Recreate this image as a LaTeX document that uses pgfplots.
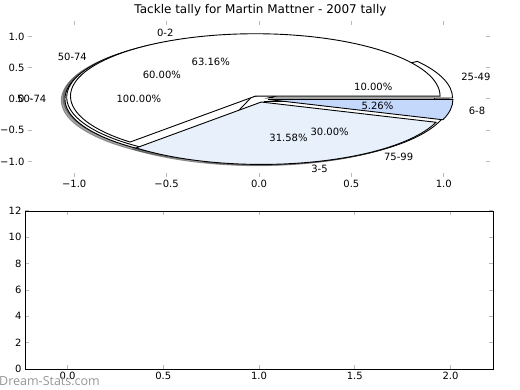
\documentclass[border=0pt]{standalone}
\usepackage{pgfplots}
\pgfplotsset{compat=1.18}
\usepackage{fontspec}
\setmainfont{DejaVu Sans}
\newfontfamily\wmfont{Open Sans}
\definecolor{lightblue}{RGB}{232,240,252}
\definecolor{midblue}{RGB}{196,216,252}
\definecolor{tickgray}{RGB}{185,185,185}
\definecolor{wmgray}{RGB}{150,150,150}

% pie data (values as shares)
% pie 1: 0-2: 12, 3-5: 6, 6-8: 1  (of 19)
\pgfmathsetmacro{\Aa}{0}
\pgfmathsetmacro{\Ab}{360/19*12}
\pgfmathsetmacro{\Ac}{360/19*(12+6)}
\pgfmathsetmacro{\Ad}{360}
% pie 2: 25-49: 10, 50-74: 60, 75-99: 30 (percent)
\pgfmathsetmacro{\Ba}{0}
\pgfmathsetmacro{\Bb}{3.6*10}
\pgfmathsetmacro{\Bc}{3.6*(10+60)}
\pgfmathsetmacro{\Bd}{360}

\newcommand\xr{184.8pt}
\newcommand\yr{62.4pt}
% #1 start, #2 end, #3 explode, #4 dx, #5 dy
\newcommand\pieWedge[5]{(axis cs:{#4+#3*cos((#1+#2)/2)},{#5+#3*sin((#1+#2)/2)}) -- ++(axis direction cs:{cos(#1)},{sin(#1)}) arc[start angle=#1,end angle=#2,x radius=\xr,y radius=\yr] -- cycle}

\tikzset{
  shad/.style={fill=black!70,draw=black!70,opacity=0.5,line width=0.9pt},
  wedg/.style={draw=black,line width=0.9pt},
}
\pgfplotsset{/pgf/number format/assume math mode=true}

\begin{document}
\begin{tikzpicture}[font=\fontsize{10}{12}\selectfont]
\useasboundingbox (0,0) rectangle (520pt,-390pt);
\node[font=\fontsize{12}{14}\selectfont] at (260.5pt,-10pt) {Tackle tally for Martin Mattner - 2007 tally};

\begin{axis}[
  at={(28pt,-21pt)}, anchor=north west, scale only axis,
  width=462pt, height=156pt,
  xmin=-1.25, xmax=1.25, ymin=-1.25, ymax=1.25,
  axis line style={draw=none},
  xtick={-1,-0.5,0,0.5,1}, xticklabels={−1.0,−0.5,0.0,0.5,1.0},
  ytick={-1,-0.5,0,0.5,1}, yticklabels={−1.0,−0.5,0.0,0.5,1.0},
  tick align=inside, major tick length=4pt,
  tick style={tickgray, line width=1pt},
  ticklabel style={font=\fontsize{10}{12}\selectfont},
  clip=false,
]
% shadows
\path[shad] (axis cs:-0.07,-0.02) ellipse[x radius=\xr,y radius=\yr];
\path[shad] \pieWedge{\Ba}{\Bb}{0.05}{-0.02}{-0.02};
\path[shad] \pieWedge{\Bb}{\Bc}{0.05}{-0.02}{-0.02};
\path[shad] \pieWedge{\Bc}{\Bd}{0.05}{-0.02}{-0.02};
\path[shad] \pieWedge{\Aa}{\Ab}{0.05}{-0.02}{-0.02};
\path[shad] \pieWedge{\Ab}{\Ac}{0.05}{-0.02}{-0.02};
\path[shad] \pieWedge{\Ac}{\Ad}{0.05}{-0.02}{-0.02};
% pie 3: 50-74 100%
\path[wedg,fill=white] (axis cs:-0.05,0) ellipse[x radius=\xr,y radius=\yr];
% pie 2
\path[wedg,fill=white] \pieWedge{\Ba}{\Bb}{0.05}{0}{0};
\path[wedg,fill=white] \pieWedge{\Bb}{\Bc}{0.05}{0}{0};
\path[wedg,fill=white] \pieWedge{\Bc}{\Bd}{0.05}{0}{0};
% pie 1
\path[wedg,fill=white] \pieWedge{\Aa}{\Ab}{0.05}{0}{0};
\path[wedg,fill=lightblue] \pieWedge{\Ab}{\Ac}{0.05}{0}{0};
\path[wedg,fill=midblue] \pieWedge{\Ac}{\Ad}{0.05}{0}{0};
% labels pie 3
\node[anchor=east,inner sep=0pt] at (axis cs:-1.15,0) {50-74};
\node[inner sep=0pt] at (axis cs:-0.65,0) {100.00\%};
% labels pie 2
\node[anchor=west,inner sep=0pt] at (axis cs:{1.15*cos(18)},{1.15*sin(18)}) {25-49};
\node[inner sep=0pt] at (axis cs:{0.65*cos(18)},{0.65*sin(18)}) {10.00\%};
\node[anchor=east,inner sep=0pt] at (axis cs:{1.15*cos(144)},{1.15*sin(144)}) {50-74};
\node[inner sep=0pt] at (axis cs:{0.65*cos(144)},{0.65*sin(144)}) {60.00\%};
\node[anchor=west,inner sep=0pt] at (axis cs:{1.15*cos(306)},{1.15*sin(306)}) {75-99};
\node[inner sep=0pt] at (axis cs:{0.65*cos(306)},{0.65*sin(306)}) {30.00\%};
% labels pie 1
\node[anchor=east,inner sep=0pt] at (axis cs:{1.15*cos(113.684)},{1.15*sin(113.684)}) {0-2};
\node[inner sep=0pt] at (axis cs:{0.65*cos(113.684)},{0.65*sin(113.684)}) {63.16\%};
\node[anchor=west,inner sep=0pt] at (axis cs:{1.15*cos(284.21)},{1.15*sin(284.21)}) {3-5};
\node[inner sep=0pt] at (axis cs:{0.65*cos(284.21)},{0.65*sin(284.21)}) {31.58\%};
\node[anchor=west,inner sep=0pt] at (axis cs:{1.15*cos(350.53)},{1.15*sin(350.53)}) {6-8};
\node[inner sep=0pt] at (axis cs:{0.65*cos(350.53)},{0.65*sin(350.53)}) {5.26\%};
\end{axis}

\begin{axis}[
  at={(25pt,-211pt)}, anchor=north west, scale only axis,
  width=468pt, height=158pt,
  xmin=-0.222, xmax=2.222, ymin=0, ymax=12,
  xtick={0,0.5,1,1.5,2}, xticklabels={0.0,0.5,1.0,1.5,2.0},
  ytick={0,2,4,6,8,10,12}, yticklabels={0,2,4,6,8,10,12},
  tick align=inside, major tick length=4pt,
  tick style={tickgray, line width=1pt},
  axis line style={black, line width=0.9pt},
  ticklabel style={font=\fontsize{10}{12}\selectfont},
]
\end{axis}
\node[anchor=west,inner sep=0pt,text=wmgray,font=\wmfont\fontsize{12.5}{14}\selectfont] at (-1pt,-381pt) {Dream-Stats.com};
\end{tikzpicture}
\end{document}
